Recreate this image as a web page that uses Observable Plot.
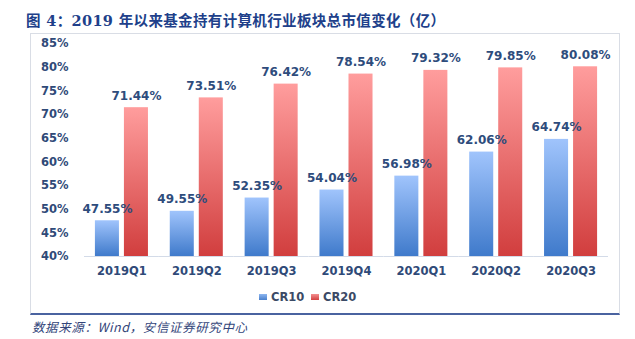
<!DOCTYPE html>
<html>
<head>
<meta charset="utf-8">
<script src="https://cdn.jsdelivr.net/npm/d3@7"></script>
<script src="https://cdn.jsdelivr.net/npm/@observablehq/plot@0.6"></script>
<style>
  body { margin: 0; background: #fff; width: 635px; height: 339px; position: relative; overflow: hidden; }
  #title { position: absolute; left: 26px; top: 9px; font-family: "DejaVu Serif", "Noto Sans CJK SC", serif; font-weight: bold; font-size: 14.5px; color: #203F8A; white-space: nowrap; letter-spacing: 0.35px; }
  #box { position: absolute; left: 30px; top: 33px; width: 588px; height: 279px; border: 1px solid #D9DDE5; border-bottom: 2px solid #4A63A0; }
  #chart { position: absolute; left: 0; top: 0; }
  #legend { position: absolute; top: 290px; left: 0; font-family: "DejaVu Sans", sans-serif; font-weight: bold; font-size: 11.5px; color: #3B4A66; }
  .sw { position: absolute; width: 8px; height: 6px; top: 4px; }
  .lt { position: absolute; top: 0; white-space: nowrap; }
  #footer { position: absolute; left: 32px; top: 317px; font-family: "Noto Sans CJK SC", sans-serif; font-style: italic; font-size: 12.5px; letter-spacing: 0.6px; color: #33457A; white-space: nowrap; }
</style>
</head>
<body>
<div id="title">图 4：2019 年以来基金持有计算机行业板块总市值变化（亿）</div>
<div id="box"></div>
<div id="chart"></div>
<div id="legend">
  <div class="sw" style="left:259px;background:linear-gradient(#8DB6F0,#4A80CC)"></div><div class="lt" style="left:271px">CR10</div>
  <div class="sw" style="left:311px;background:linear-gradient(#F39090,#D34141)"></div><div class="lt" style="left:323px">CR20</div>
</div>
<div id="footer">数据来源：Wind，安信证券研究中心</div>
<script>
const quarters = ["2019Q1", "2019Q2", "2019Q3", "2019Q4", "2020Q1", "2020Q2", "2020Q3"];
const series = ["CR10", "CR20"];
const cr10 = [47.55, 49.55, 52.35, 54.04, 56.98, 62.06, 64.74];
const cr20 = [71.44, 73.51, 76.42, 78.54, 79.32, 79.85, 80.08];
const yTicks = [40, 45, 50, 55, 60, 65, 70, 75, 80, 85];

const data = [];
quarters.forEach((q, i) => {
  data.push({q, s: "CR10", v: cr10[i]});
  data.push({q, s: "CR20", v: cr20[i]});
});

const plot = Plot.plot({
  width: 635,
  height: 339,
  marginLeft: 84,
  marginRight: 27,
  marginTop: 43,
  marginBottom: 83,
  style: {fontFamily: "DejaVu Sans, sans-serif", fontWeight: "bold", fontSize: "11.5px", color: "#3B4A66", background: "transparent"},
  fx: {domain: quarters, padding: 0, round: false, tickSize: 0, tickPadding: 10, label: null, axis: "bottom"},
  x: {domain: series, paddingInner: 0.172, paddingOuter: 0.376, round: false, axis: null},
  y: {domain: [40, 85], ticks: yTicks, tickFormat: d => d + "%", tickSize: 0, tickPadding: 16, label: null},
  marks: [
    Plot.barY(data, {fx: "q", x: "s", y1: 40, y2: "v", fill: d => d.s === "CR10" ? "url(#gBlue)" : "url(#gRed)"}),
    Plot.ruleY([40], {stroke: "#D3DBE8", strokeWidth: 1}),
    Plot.text(data, {fx: "q", x: "s", y: "v", text: d => d.v.toFixed(2) + "%", dy: -12, fontSize: 12, fontWeight: "bold", fill: "#2E4C7C"})
  ]
});

const svg = d3.select(plot);
const defs = svg.insert("defs", ":first-child");
const gb = defs.append("linearGradient").attr("id", "gBlue").attr("x1", 0).attr("y1", 0).attr("x2", 0).attr("y2", 1);
gb.append("stop").attr("offset", "0%").attr("stop-color", "#A0C4FC");
gb.append("stop").attr("offset", "100%").attr("stop-color", "#3F7ACB");
const gr = defs.append("linearGradient").attr("id", "gRed").attr("x1", 0).attr("y1", 0).attr("x2", 0).attr("y2", 1);
gr.append("stop").attr("offset", "0%").attr("stop-color", "#FF9D9D");
gr.append("stop").attr("offset", "100%").attr("stop-color", "#D13E3E");
svg.selectAll("[aria-label='y-axis tick label'] text, [aria-label='fx-axis tick label'] text").attr("fill", "#2F4A78");

document.getElementById("chart").appendChild(plot);
</script>
</body>
</html>
